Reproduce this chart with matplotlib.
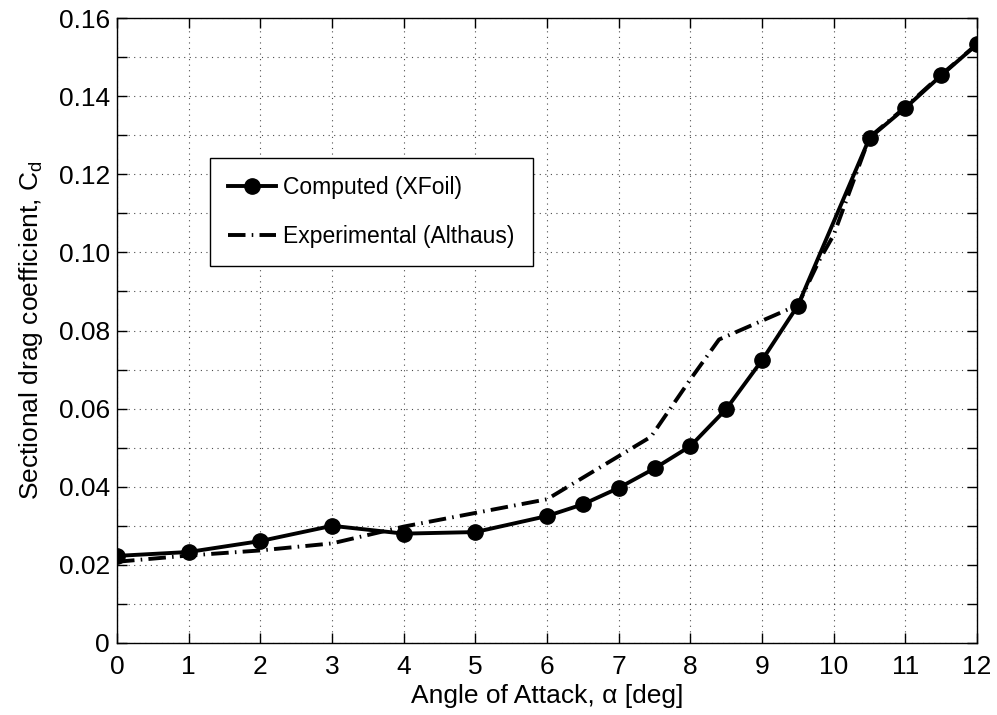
import matplotlib
matplotlib.use("Agg")
import matplotlib.pyplot as plt
import numpy as np

# Computed drag polar (XFoil)
alpha_comp = [0, 1, 2, 3, 4, 5, 6, 6.5, 7, 7.5, 8, 8.5, 9, 9.5, 10.5, 11, 11.5, 12]
cd_comp = [0.0223, 0.0233, 0.0261, 0.0300, 0.0280, 0.0284, 0.0325, 0.0355,
           0.0397, 0.0447, 0.0504, 0.0599, 0.0724, 0.0864, 0.1293, 0.1370,
           0.1453, 0.1533]

# Experimental drag polar (Althaus)
alpha_exp = [0, 1, 2, 3, 4, 5, 6, 7.45, 8, 8.4, 9.5, 9.8, 10.0, 10.25, 10.5, 11, 11.5, 12]
cd_exp = [0.0208, 0.0224, 0.0237, 0.0255, 0.0298, 0.0333, 0.0368, 0.0528,
          0.0675, 0.0777, 0.0865, 0.0980, 0.1045, 0.1170, 0.1295, 0.1372,
          0.1455, 0.1533]

plt.rcParams["font.family"] = ["Liberation Sans", "DejaVu Sans"]

fig = plt.figure(figsize=(9.97, 7.15), dpi=100)
ax = fig.add_axes([0.1174, 0.1007, 0.8626, 0.8741])

ax.plot(alpha_exp, cd_exp, color="black", lw=2.8, linestyle=(0, (4.5, 1.6, 0.4, 1.6)),
        label="Experimental (Althaus)", zorder=3)
ax.plot(alpha_comp, cd_comp, color="black", lw=2.8, marker="o", markersize=11,
        label="Computed (XFoil)", zorder=4)

ax.set_xlim(0, 12)
ax.set_ylim(0, 0.16)
ax.set_xticks(np.arange(0, 13, 1))
ax.set_yticks(np.arange(0, 0.1601, 0.01))
ylabels = []
for v in np.arange(0, 0.1601, 0.01):
    k = int(round(v * 100))
    if k == 0:
        ylabels.append("0")
    elif k % 2 == 0:
        ylabels.append(f"{v:.2f}")
    else:
        ylabels.append("")
ax.set_yticklabels(ylabels)

ax.grid(True, linestyle=(0, (1, 4)), color="black", linewidth=0.8, alpha=0.7)
ax.tick_params(direction="in", length=7, width=1, top=True, right=True,
               labelsize=19, pad=5)
ax.tick_params(axis="x", pad=9)
for s in ax.spines.values():
    s.set_linewidth(1.0)

ax.set_xlabel("Angle of Attack, α [deg]", fontsize=19, labelpad=3)
ax.set_ylabel(r"Sectional drag coefficient, C$_\mathregular{d}$", fontsize=19, labelpad=10)

handles, labels = ax.get_legend_handles_labels()
leg = ax.legend(handles[::-1], labels[::-1], loc="upper left",
                bbox_to_anchor=(0.108, 0.776), fontsize=16.5, frameon=True,
                fancybox=False, edgecolor="black", framealpha=1,
                handlelength=2.1, borderpad=0.8, labelspacing=1.1,
                handletextpad=0.3, borderaxespad=0)
leg.get_frame().set_linewidth(1.0)

fig.savefig("out.png", dpi=100)
